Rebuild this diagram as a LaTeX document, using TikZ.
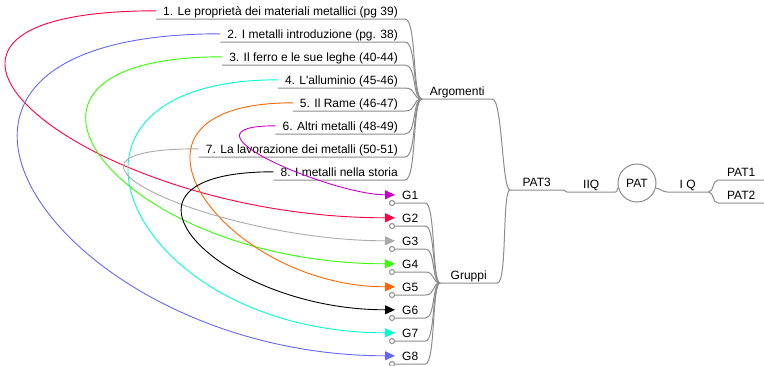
\documentclass[tikz,border=0pt]{standalone}
\usepackage{fontspec}
\setmainfont{Liberation Sans}
\usetikzlibrary{arrows.meta}
\definecolor{lineGray}{HTML}{8C8C8C}
\definecolor{cRed}{HTML}{FF0040}
\definecolor{cBlue}{HTML}{6666FF}
\definecolor{cGreen}{HTML}{33FF00}
\definecolor{cCyan}{HTML}{00FFCC}
\definecolor{cOrange}{HTML}{FF6600}
\definecolor{cMagenta}{HTML}{CC00CC}
\definecolor{cGray}{HTML}{AAAAAA}

\begin{document}
\begin{tikzpicture}[x=1pt,y=-1pt,
  topic/.style={anchor=south east, inner xsep=7pt, inner ysep=3.5pt, text height=9pt, text depth=0pt, font=\fontsize{12}{14}\selectfont},
  group/.style={topic, anchor=south west},
  hub/.style={topic, anchor=south west, inner xsep=0pt},
  branch/.style={color=lineGray, line width=1pt},
  link/.style={line width=0.9pt, -{Triangle[length=10pt,width=9pt]}}]
\useasboundingbox (0,0) rectangle (764,365);

% argomenti
\node[topic] (t1) at (405,19) {1. Le proprietà dei materiali metallici (pg 39)};
\node[topic] (t2) at (405,42) {2. I metalli introduzione (pg. 38)};
\node[topic] (t3) at (405,65) {3. Il ferro e le sue leghe (40-44)};
\node[topic] (t4) at (405,88) {4. L\textquotesingle alluminio (45-46)};
\node[topic] (t5) at (405,111) {5. Il Rame (46-47)};
\node[topic] (t6) at (405,134) {6. Altri metalli (48-49)};
\node[topic] (t7) at (405,157) {7. La lavorazione dei metalli (50-51)};
\node[topic] (t8) at (405,180) {8. I metalli nella storia};

% gruppi
\node[group] (g1) at (395,203) {G1};
\node[group] (g2) at (395,226) {G2};
\node[group] (g3) at (395,249) {G3};
\node[group] (g4) at (395,272) {G4};
\node[group] (g5) at (395,295) {G5};
\node[group] (g6) at (395,318) {G6};
\node[group] (g7) at (395,341) {G7};
\node[group] (g8) at (395,364) {G8};

\node[hub, minimum width=70pt] (arg) at (422,99) {Argomenti};
\node[hub, minimum width=57pt] (gru) at (440,283) {Gruppi};
\node[hub, minimum width=53pt] (pat3) at (510,190) {PAT3};
\node[hub, minimum width=48pt] (iiq) at (567,192) {IIQ};
\node[circle, draw=lineGray, line width=1pt, minimum size=38pt, inner sep=0pt, font=\fontsize{12}{14}\selectfont] (pat) at (637,183) {PAT};
\node[hub, minimum width=41pt] (iq) at (667,192) {I Q};
\node[hub, minimum width=46pt] (pat1) at (718,180) {PAT1};
\node[hub, minimum width=46pt] (pat2) at (718,203) {PAT2};

\draw[branch] (t1.south west) -- (t1.south east) .. controls +(12,0) and +(-10,0) .. (arg.south west);
\draw[branch] (t2.south west) -- (t2.south east) .. controls +(12,0) and +(-10,0) .. (arg.south west);
\draw[branch] (t3.south west) -- (t3.south east) .. controls +(12,0) and +(-10,0) .. (arg.south west);
\draw[branch] (t4.south west) -- (t4.south east) .. controls +(12,0) and +(-10,0) .. (arg.south west);
\draw[branch] (t5.south west) -- (t5.south east) .. controls +(12,0) and +(-10,0) .. (arg.south west);
\draw[branch] (t6.south west) -- (t6.south east) .. controls +(12,0) and +(-10,0) .. (arg.south west);
\draw[branch] (t7.south west) -- (t7.south east) .. controls +(12,0) and +(-10,0) .. (arg.south west);
\draw[branch] (t8.south west) -- (t8.south east) .. controls +(12,0) and +(-10,0) .. (arg.south west);

\draw[branch] (g1.south west) -- (g1.south east) .. controls +(10,0) and +(-8,0) .. (gru.south west);
\draw[branch] (g2.south west) -- (g2.south east) .. controls +(10,0) and +(-8,0) .. (gru.south west);
\draw[branch] (g3.south west) -- (g3.south east) .. controls +(10,0) and +(-8,0) .. (gru.south west);
\draw[branch] (g4.south west) -- (g4.south east) .. controls +(10,0) and +(-8,0) .. (gru.south west);
\draw[branch] (g5.south west) -- (g5.south east) .. controls +(10,0) and +(-8,0) .. (gru.south west);
\draw[branch] (g6.south west) -- (g6.south east) .. controls +(10,0) and +(-8,0) .. (gru.south west);
\draw[branch] (g7.south west) -- (g7.south east) .. controls +(10,0) and +(-8,0) .. (gru.south west);
\draw[branch] (g8.south west) -- (g8.south east) .. controls +(10,0) and +(-8,0) .. (gru.south west);
\draw[branch, fill=white] ([xshift=-3pt]g1.south west) circle (2.5pt);
\draw[branch, fill=white] ([xshift=-3pt]g2.south west) circle (2.5pt);
\draw[branch, fill=white] ([xshift=-3pt]g3.south west) circle (2.5pt);
\draw[branch, fill=white] ([xshift=-3pt]g4.south west) circle (2.5pt);
\draw[branch, fill=white] ([xshift=-3pt]g5.south west) circle (2.5pt);
\draw[branch, fill=white] ([xshift=-3pt]g6.south west) circle (2.5pt);
\draw[branch, fill=white] ([xshift=-3pt]g7.south west) circle (2.5pt);
\draw[branch, fill=white] ([xshift=-3pt]g8.south west) circle (2.5pt);

\draw[branch] (arg.south west) -- (arg.south east) .. controls +(10,0) and +(-8,0) .. (pat3.south west);
\draw[branch] (gru.south west) -- (gru.south east) .. controls +(10,0) and +(-8,0) .. (pat3.south west);
\draw[branch] (pat3.south west) -- (pat3.south east) .. controls +(3,0) and +(-3,0) .. (iiq.south west) -- (iiq.south east) .. controls +(3,0) and +(-2,0) .. (pat.195);
\draw[branch] (pat.345) .. controls +(3,0) and +(-4,0) .. (iq.south west) -- (iq.south east);
\draw[branch] (iq.south east) .. controls +(6,0) and +(-6,0) .. (pat1.south west) -- (pat1.south east);
\draw[branch] (iq.south east) .. controls +(6,0) and +(-6,0) .. (pat2.south west) -- (pat2.south east);

% collegamenti argomento -> gruppo
\draw[link, cRed] (t1.west) .. controls +(-324,0) and +(-309,0) .. (g2.west);
\draw[link, cBlue] (t2.west) .. controls +(-384,0) and +(-338,0) .. (g8.west);
\draw[link, cGreen] (t3.west) .. controls +(-267,0) and +(-277,0) .. (g4.west);
\draw[link, cCyan] (t4.west) .. controls +(-261,0) and +(-270,0) .. (g7.west);
\draw[link, cOrange] (t5.west) .. controls +(-203,0) and +(-172,0) .. (g5.west);
\draw[link, cMagenta] (t6.west) .. controls +(-108,0) and +(-63,0) .. (g1.west);
\draw[link, cGray] (t7.west) .. controls +(-190,0) and +(-176,0) .. (g3.west);
\draw[link, black] (t8.west) .. controls +(-189,0) and +(-177,0) .. (g6.west);
\end{tikzpicture}
\end{document}
